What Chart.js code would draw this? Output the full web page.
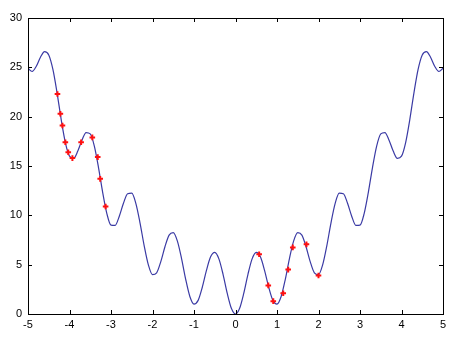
<!DOCTYPE html>
<html lang="en">
<head>
<meta charset="UTF-8">
<title>Curve with sampled points</title>
<script src="https://cdn.jsdelivr.net/npm/chart.js"></script>
<style>
    html, body { margin: 0; padding: 0; background: #ffffff; }
    #wrap { width: 465px; height: 353px; }
</style>
</head>
<body>
<div id="wrap"><canvas id="chart" width="465" height="353"></canvas></div>
<script>
    const curveX = [];
    for (let i = -50; i <= 50; i++) curveX.push(i / 10);
    const halfCurve = [0, 0.58, 2.11, 4.02, 5.59, 6.25, 5.79, 4.42, 2.71, 1.38,
        1.0, 1.78, 3.51, 5.62, 7.39, 8.25, 7.99, 6.82, 5.31, 4.18,
        4.0, 4.98, 6.91, 9.22, 11.19, 12.25, 12.19, 11.22, 9.91, 8.98,
        9.0, 10.18, 12.31, 14.82, 16.99, 18.25, 18.39, 17.62, 16.51, 15.78,
        16.0, 17.38, 19.71, 22.42, 24.79, 26.25, 26.59, 26.02, 25.11, 24.58,
        24.9];
    // the curve is mirror symmetric about x = 0
    const curveY = halfCurve.slice(1).reverse().concat(halfCurve);

    // red sample points
    const pointX = [-4.29, -4.22, -4.17, -4.10, -4.03, -3.93, -3.72, -3.45, -3.32, -3.26, -3.13,
        0.57, 0.79, 0.91, 1.15, 1.27, 1.38, 1.71, 2.0];
    const pointY = [22.3, 20.3, 19.1, 17.4, 16.4, 15.8, 17.4, 17.9, 15.9, 13.7, 10.9,
        6.05, 2.9, 1.3, 2.1, 4.5, 6.75, 7.06, 3.9];

    const xTicks = [-5, -4, -3, -2, -1, 0, 1, 2, 3, 4, 5];
    const yTicks = [0, 5, 10, 15, 20, 25, 30];

    // box around the axes plus inward tick marks, like the original
    const boxPlugin = {
        id: 'box',
        afterDraw(chart) {
            const ctx = chart.ctx;
            const a = chart.chartArea;
            const xs = chart.scales.x, ys = chart.scales.y;
            ctx.save();
            ctx.strokeStyle = '#000';
            ctx.lineWidth = 1;
            ctx.strokeRect(Math.round(a.left) + 0.5, Math.round(a.top) + 0.5,
                Math.round(a.right - a.left), Math.round(a.bottom - a.top));
            ctx.beginPath();
            xTicks.forEach(v => {
                const px = Math.round(xs.getPixelForValue(v)) + 0.5;
                ctx.moveTo(px, a.bottom); ctx.lineTo(px, a.bottom - 4);
                ctx.moveTo(px, a.top); ctx.lineTo(px, a.top + 4);
            });
            yTicks.forEach(v => {
                const py = Math.round(ys.getPixelForValue(v)) + 0.5;
                ctx.moveTo(a.left, py); ctx.lineTo(a.left + 4, py);
                ctx.moveTo(a.right, py); ctx.lineTo(a.right - 4, py);
            });
            ctx.stroke();
            ctx.restore();
        }
    };

    new Chart(document.getElementById('chart'), {
        type: 'scatter',
        data: {
            datasets: [{
                data: pointX.map((x, i) => ({ x: x, y: pointY[i] })),
                showLine: false,
                pointStyle: 'cross',
                pointRadius: 2.8,
                pointBorderWidth: 2,
                borderColor: '#ff1010',
                backgroundColor: '#ff1010'
            }, {
                data: curveX.map((x, i) => ({ x: x, y: curveY[i] })),
                showLine: true,
                pointRadius: 0,
                borderColor: '#3a3aa4',
                borderWidth: 1.2,
                cubicInterpolationMode: 'monotone'
            }]
        },
        options: {
            responsive: false,
            animation: false,
            layout: { padding: { top: 18, right: 22, left: 0, bottom: 0 } },
            plugins: { legend: { display: false }, tooltip: { enabled: false } },
            scales: {
                x: {
                    type: 'linear', min: -5, max: 5,
                    grid: { display: false, drawTicks: false },
                    border: { display: false },
                    afterBuildTicks: s => { s.ticks = xTicks.map(v => ({ value: v })); },
                    afterFit: s => { s.height = 39; },
                    ticks: { color: '#000', padding: 4, maxRotation: 0,
                        font: { family: 'Liberation Sans, Arial, sans-serif', size: 11 } }
                },
                y: {
                    min: 0, max: 30,
                    grid: { display: false, drawTicks: false },
                    border: { display: false },
                    afterBuildTicks: s => { s.ticks = yTicks.map(v => ({ value: v })); },
                    afterFit: s => { s.width = 28; },
                    ticks: { color: '#000', padding: 6,
                        font: { family: 'Liberation Sans, Arial, sans-serif', size: 11 } }
                }
            }
        },
        plugins: [boxPlugin]
    });
</script>
</body>
</html>
